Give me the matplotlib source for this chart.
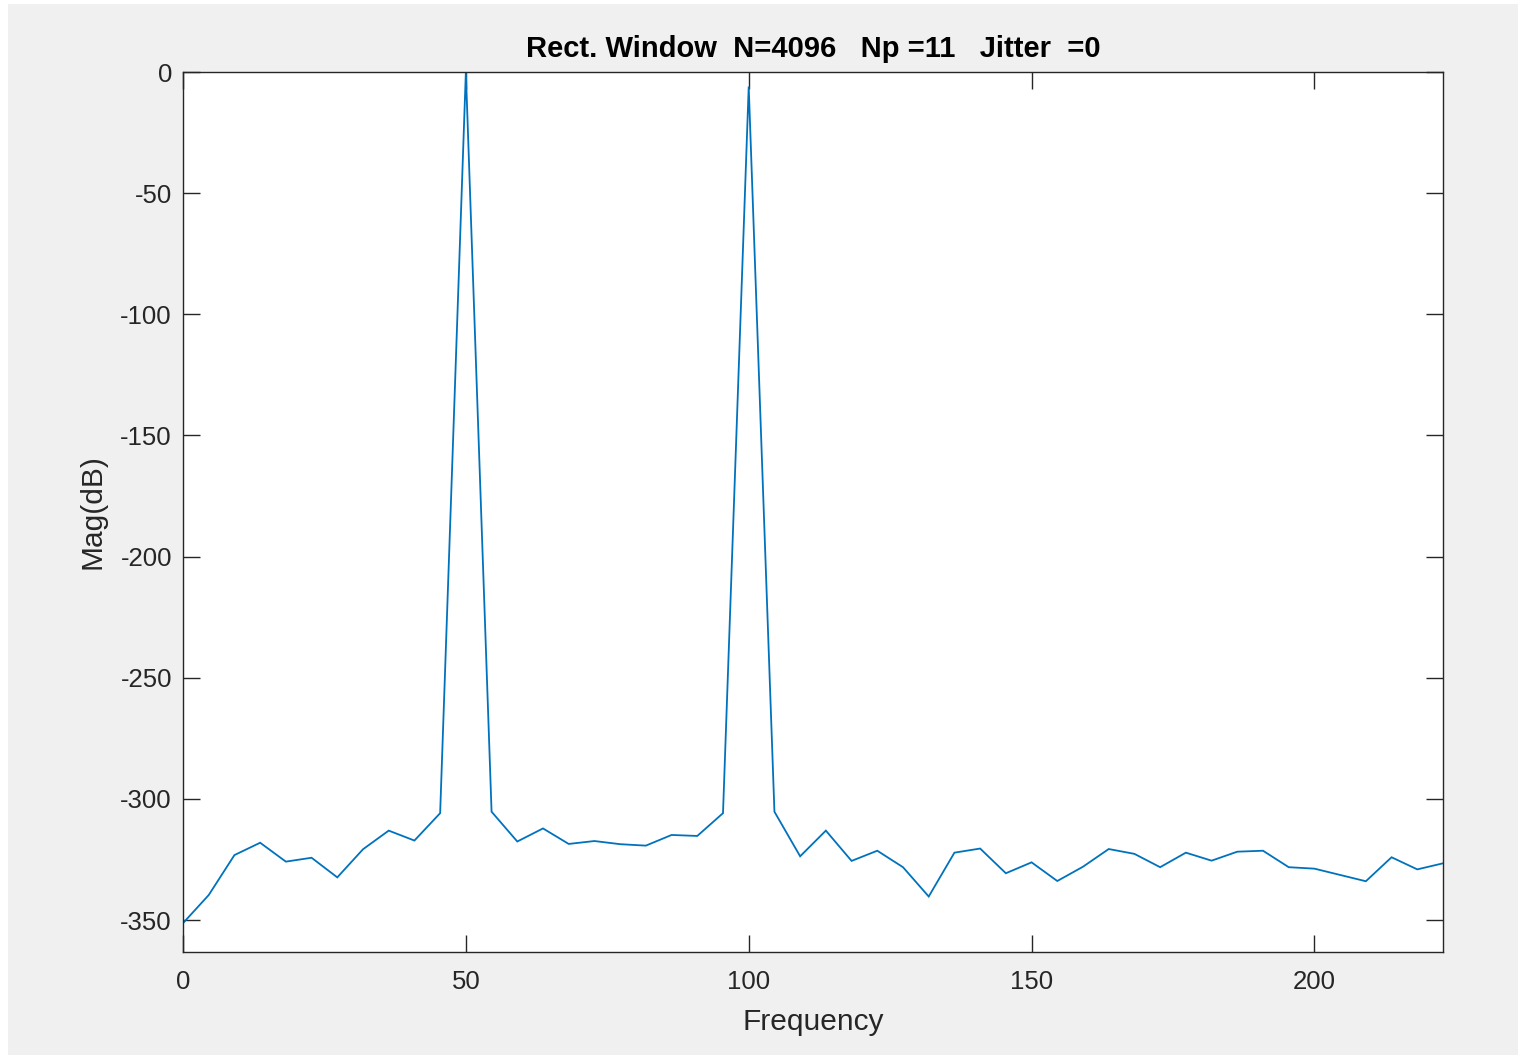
import numpy as np
import matplotlib
matplotlib.use("Agg")
import matplotlib.pyplot as plt
from matplotlib.patches import Rectangle

# Spectrum bins: spacing of 50/11 Hz
bin_index = np.arange(50)
freq = bin_index * 50.0 / 11.0
mag_db = [
    -351.3, -339.7, -323.2, -318.1, -325.9, -324.3, -332.4, -320.8, -313.1, -317.2,
    -305.9, 0.0, -305.3, -317.6, -312.2, -318.6, -317.4, -318.7, -319.3, -314.9,
    -315.3, -305.9, -6.0, -305.3, -323.7, -313.1, -325.6, -321.4, -328.2, -340.3,
    -322.2, -320.5, -330.7, -326.2, -333.9, -328.0, -320.7, -322.7, -328.2, -322.2,
    -325.5, -321.8, -321.4, -328.2, -328.8, -331.4, -334.0, -324.1, -329.1, -326.6,
]
x_ticks = [0, 50, 100, 150, 200]
y_ticks = [0, -50, -100, -150, -200, -250, -300, -350]

plt.rcParams["font.family"] = ["Liberation Sans", "DejaVu Sans"]
plt.rcParams["axes.unicode_minus"] = False

fig = plt.figure(figsize=(15.2, 10.59), dpi=100, facecolor="white")
# grey figure panel inside a thin white frame
fig.patches.append(Rectangle((8 / 1520, 4 / 1059), 1510 / 1520, 1051 / 1059,
                             transform=fig.transFigure, facecolor="#f0f0f0",
                             edgecolor="none", zorder=-10))

ax = fig.add_axes([183 / 1520, 1 - 952 / 1059, (1443 - 183) / 1520, (952 - 72) / 1059])
ax.set_facecolor("white")
ax.plot(freq, mag_db, color="#0072BD", lw=1.3, solid_joinstyle="miter")

ax.set_xlim(0, 49 * 50 / 11)
ax.set_ylim(-363.2, 0)
ax.set_xticks(x_ticks)
ax.set_yticks(y_ticks)

for s in ax.spines.values():
    s.set_color("#262626")
    s.set_linewidth(1.0)
ax.tick_params(direction="in", length=12, width=1.0, color="#262626",
               labelsize=18.5, labelcolor="#262626", top=True, right=True)
ax.tick_params(axis="x", pad=13)
ax.tick_params(axis="y", pad=8)

ax.set_xlabel("Frequency", fontsize=21.5, color="#262626", labelpad=10)
ax.set_ylabel("Mag(dB)", fontsize=21.5, color="#262626", labelpad=10)
ax.set_title("Rect. Window  N=4096   Np =11   Jitter  =0", fontsize=21,
             fontweight="bold", color="black", pad=11)

fig.savefig("out.png", dpi=100, facecolor=fig.get_facecolor())
